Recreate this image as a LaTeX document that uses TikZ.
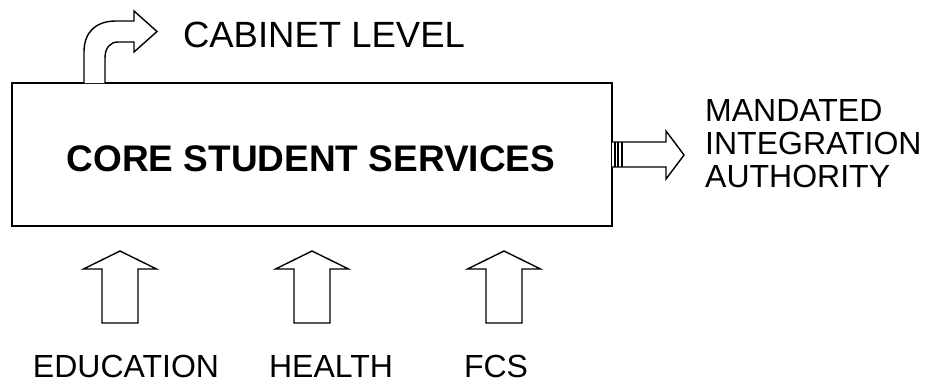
\documentclass[tikz,border=0pt]{standalone}
\usepackage{fontspec}
\setmainfont{Liberation Sans}
\usepackage{tikz}
\usetikzlibrary{calc}

\tikzset{
  corebox/.style={draw, line width=1.8pt, minimum width=600pt, minimum height=143pt,
    font=\fontsize{37}{40}\selectfont\bfseries, inner sep=0pt},
  label/.style={font=\fontsize{32}{33}\selectfont, inner sep=0pt},
  blockarrow/.style={draw, line width=1.4pt, fill=white, line join=miter}
}

\begin{document}
\begin{tikzpicture}[x=1pt, y=-1pt]
    \useasboundingbox (0,0) rectangle (931,384);

    % box
    \node[corebox] (core) at (312,154.5) {};
    \node[font=\fontsize{37}{40}\selectfont\bfseries, inner sep=0pt] (coretext) at (311,159) {CORE STUDENT SERVICES};

    % top: bent arrow
    \draw[blockarrow] (84,83) -- (84,52) .. controls (84,32) and (96,21) .. (116,21)
        -- (134,21) -- (134,11) -- (157,31.5) -- (134,52) -- (134,42) -- (118,42)
        .. controls (110,42) and (105,48) .. (105,58) -- (105,83);
    \node[label, font=\fontsize{36.5}{38}\selectfont] (cabinet) at (324,35) {CABINET LEVEL};

    % right: striped arrow
    \draw[blockarrow] (612,142) -- (666,142) -- (666,131) -- (684,155) -- (666,179)
        -- (666,167) -- (612,167);
    \foreach \sx in {615,618,622}
        \draw[line width=1.2pt] (\sx,142) -- (\sx,167);
    \node[label, align=left, anchor=west] (mandate) at (705,144) {MANDATED\\INTEGRATION\\AUTHORITY};

    % bottom: up arrows
    \foreach \cx/\name in {120/eduarrow, 312/healtharrow, 504/fcsarrow} {
        \coordinate (\name) at (\cx,251);
        \draw[blockarrow] ($(\name)+(-18,72)$) -- ($(\name)+(-18,18)$) -- ($(\name)+(-36.5,18)$)
            -- (\name) -- ($(\name)+(36.5,18)$) -- ($(\name)+(18,18)$) -- ($(\name)+(18,72)$) -- cycle;
    }
    \node[label] (edu) at (126,366) {EDUCATION};
    \node[label] (health) at (331,366) {HEALTH};
    \node[label] (fcs) at (496,366) {FCS};
\end{tikzpicture}
\end{document}
